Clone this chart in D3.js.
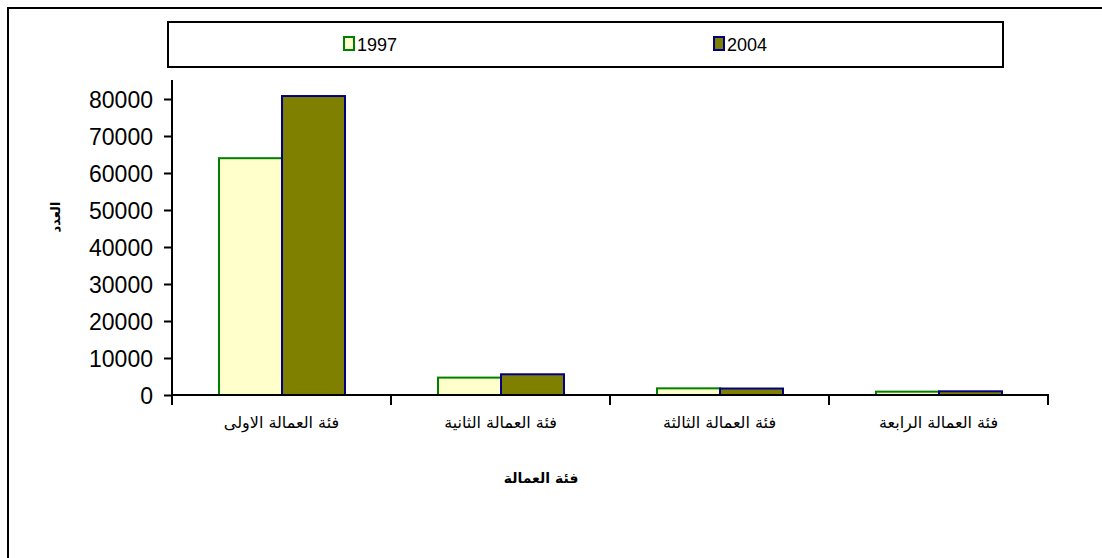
<!DOCTYPE html>
<html>
<head>
<meta charset="utf-8">
<script src="https://cdn.jsdelivr.net/npm/d3@7"></script>
<style>
  body { margin: 0; background: #fff; }
  text { font-family: Arial, "Liberation Sans", sans-serif; }
</style>
</head>
<body>
<div id="chart"></div>
<script>
// labour categories and counts for each year
const categories = ["فئة العمالة الاولى", "فئة العمالة الثانية", "فئة العمالة الثالثة", "فئة العمالة الرابعة"];
const years = ["1997", "2004"];
const values1997 = [64000, 4700, 1800, 900];
const values2004 = [80800, 5600, 1750, 1000];
const yTicks = [0, 10000, 20000, 30000, 40000, 50000, 60000, 70000, 80000];

const fills = { "1997": "#FFFFCC", "2004": "#808000" };
const strokes = { "1997": "#008000", "2004": "#000080" };

const W = 1102, H = 558;
const plot = { left: 172, right: 1048, top: 80, bottom: 395 };

const data = categories.map((c, i) => ({ cat: c, "1997": values1997[i], "2004": values2004[i] }));

const svg = d3.select("#chart").append("svg")
    .attr("width", W)
    .attr("height", H);

// outer frame (right and bottom edges run off the picture)
svg.append("rect")
    .attr("x", 8).attr("y", 8)
    .attr("width", W + 20).attr("height", H + 20)
    .attr("fill", "none").attr("stroke", "#000").attr("stroke-width", 2);

const x = d3.scaleBand()
    .domain(categories)
    .range([plot.left, plot.right])
    .paddingInner(0)
    .paddingOuter(0);

const inner = d3.scaleBand()
    .domain(years)
    .range([47, 47 + 126]);

// 80000 sits at y=99, 0 at y=395
const y = d3.scaleLinear()
    .domain([0, 80000])
    .range([plot.bottom, 99]);

// bars
const groups = svg.selectAll(".grp")
    .data(data)
    .enter().append("g")
    .attr("class", "grp")
    .attr("transform", d => `translate(${x(d.cat)},0)`);

groups.selectAll("rect")
    .data(d => years.map(k => ({ key: k, value: d[k] })))
    .enter().append("rect")
    .attr("x", d => inner(d.key))
    .attr("y", d => y(d.value))
    .attr("width", inner.bandwidth())
    .attr("height", d => y(0) - y(d.value))
    .attr("fill", d => fills[d.key])
    .attr("stroke", d => strokes[d.key])
    .attr("stroke-width", 2);

// y axis
const yAxis = svg.append("g")
    .attr("transform", `translate(${plot.left},0)`)
    .call(d3.axisLeft(y).tickValues(yTicks).tickFormat(d3.format("d")).tickSize(8).tickSizeOuter(0));
yAxis.select(".domain").attr("stroke", "#000").attr("stroke-width", 2)
    .attr("d", `M0,${plot.top}V${plot.bottom}`);
yAxis.selectAll(".tick line").attr("stroke", "#000").attr("stroke-width", 2);
yAxis.selectAll(".tick text")
    .attr("x", -19)
    .attr("dy", "0.36em")
    .style("font-family", "Arial, 'Liberation Sans', sans-serif")
    .style("font-size", "23px")
    .attr("fill", "#000");

// x axis with ticks at category boundaries
const xAxis = svg.append("g")
    .attr("transform", `translate(0,${plot.bottom})`);
xAxis.append("line")
    .attr("x1", plot.left).attr("x2", plot.right)
    .attr("stroke", "#000").attr("stroke-width", 2);
const bounds = categories.map(c => x(c)).concat([x(categories[categories.length - 1]) + x.bandwidth()]);
xAxis.selectAll(".xt")
    .data(bounds)
    .enter().append("line")
    .attr("x1", d => d).attr("x2", d => d)
    .attr("y1", -1).attr("y2", 10)
    .attr("stroke", "#000").attr("stroke-width", 2);

svg.selectAll(".cat-label")
    .data(categories)
    .enter().append("text")
    .attr("class", "cat-label")
    .attr("x", d => x(d) + x.bandwidth() / 2)
    .attr("y", 428)
    .attr("text-anchor", "middle")
    .attr("direction", "rtl")
    .style("font-family", "'DejaVu Sans', sans-serif")
    .style("font-size", "16px")
    .text(d => d);

// axis titles
svg.append("text")
    .attr("x", 541).attr("y", 483)
    .attr("text-anchor", "middle")
    .attr("direction", "rtl")
    .style("font-family", "'DejaVu Sans', sans-serif")
    .style("font-size", "14px")
    .style("font-weight", "bold")
    .text("فئة العمالة");

svg.append("text")
    .attr("transform", "translate(60,217) rotate(-90)")
    .attr("text-anchor", "middle")
    .attr("direction", "rtl")
    .style("font-family", "'DejaVu Sans', sans-serif")
    .style("font-size", "13px")
    .style("font-weight", "bold")
    .text("العدد");

// legend
const legend = svg.append("g");
legend.append("rect")
    .attr("x", 168).attr("y", 22)
    .attr("width", 835).attr("height", 45)
    .attr("fill", "#fff").attr("stroke", "#000").attr("stroke-width", 2);

const legendX = { "1997": 344, "2004": 714 };
years.forEach(k => {
    legend.append("rect")
        .attr("x", legendX[k]).attr("y", 37)
        .attr("width", 10).attr("height", 13)
        .attr("fill", fills[k]).attr("stroke", strokes[k]).attr("stroke-width", 2);
    legend.append("text")
        .attr("x", legendX[k] + 13).attr("y", 51)
        .style("font-size", "18px")
        .text(k);
});
</script>
</body>
</html>
